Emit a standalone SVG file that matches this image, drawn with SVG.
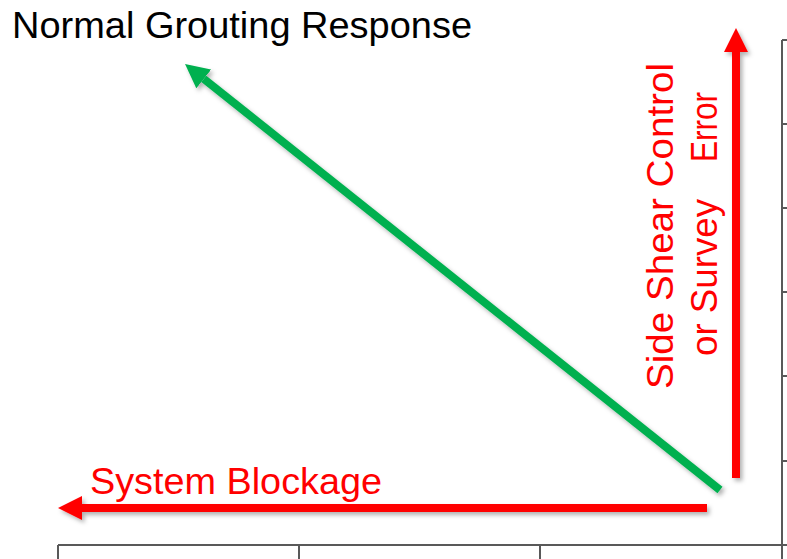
<svg xmlns="http://www.w3.org/2000/svg" width="787" height="559" viewBox="0 0 787 559">
<style>
.axis{stroke:#595959;stroke-width:2;fill:none}
.lbl{font-family:"Liberation Sans",Arial,sans-serif;font-size:36px}
.red{fill:#FF0000}
</style>
<defs>
<filter id="sh" x="-10%" y="-10%" width="120%" height="120%">
<feDropShadow dx="2.5" dy="3" stdDeviation="2" flood-color="#000" flood-opacity="0.3"/>
</filter>
<marker id="hr" viewBox="0 0 24 24" refX="0" refY="12" markerWidth="24" markerHeight="24" markerUnits="userSpaceOnUse" orient="auto">
<path d="M0,0 L24,12 L0,24 z" fill="#FF0000"/>
</marker>
<marker id="hg" viewBox="0 0 24 24" refX="0" refY="12" markerWidth="24" markerHeight="24" markerUnits="userSpaceOnUse" orient="auto">
<path d="M0,0 L24,12 L0,24 z" fill="#00B050"/>
</marker>
</defs>
<rect width="787" height="559" fill="#fff"/>
<g id="axes">
<path class="axis" d="M782,40 V559 M782,40 H787 M782,124 H787 M782,208 H787 M782,292 H787 M782,376 H787 M782,461 H787"/>
<path class="axis" d="M58,545 H787 M58,545 V559 M299,545 V559 M540,545 V559 M782,545 V559"/>
</g>
<g id="title">
<text class="lbl" x="12" y="38" fill="#000" textLength="460" lengthAdjust="spacingAndGlyphs">Normal Grouting Response</text>
</g>
<g id="connectors" filter="url(#sh)">
<line x1="720" y1="490" x2="203.8" y2="78.9" stroke="#00B050" stroke-width="8" marker-end="url(#hg)"/>
<line x1="736" y1="478" x2="736" y2="52" stroke="#FF0000" stroke-width="8" marker-end="url(#hr)"/>
<line x1="707" y1="508" x2="82" y2="508" stroke="#FF0000" stroke-width="8" marker-end="url(#hr)"/>
</g>
<g id="system-blockage">
<text class="lbl red" x="90" y="494" textLength="292" lengthAdjust="spacingAndGlyphs">System Blockage</text>
</g>
<g id="side-shear">
<text class="lbl red" transform="translate(673,389) rotate(-90)" textLength="326" lengthAdjust="spacingAndGlyphs">Side Shear Control</text>
<text class="lbl red" transform="translate(717,356) rotate(-90)"><tspan x="0" y="0" textLength="157" lengthAdjust="spacingAndGlyphs">or Survey</tspan><tspan x="194" y="0" textLength="70" lengthAdjust="spacingAndGlyphs">Error</tspan></text>
</g>
</svg>
